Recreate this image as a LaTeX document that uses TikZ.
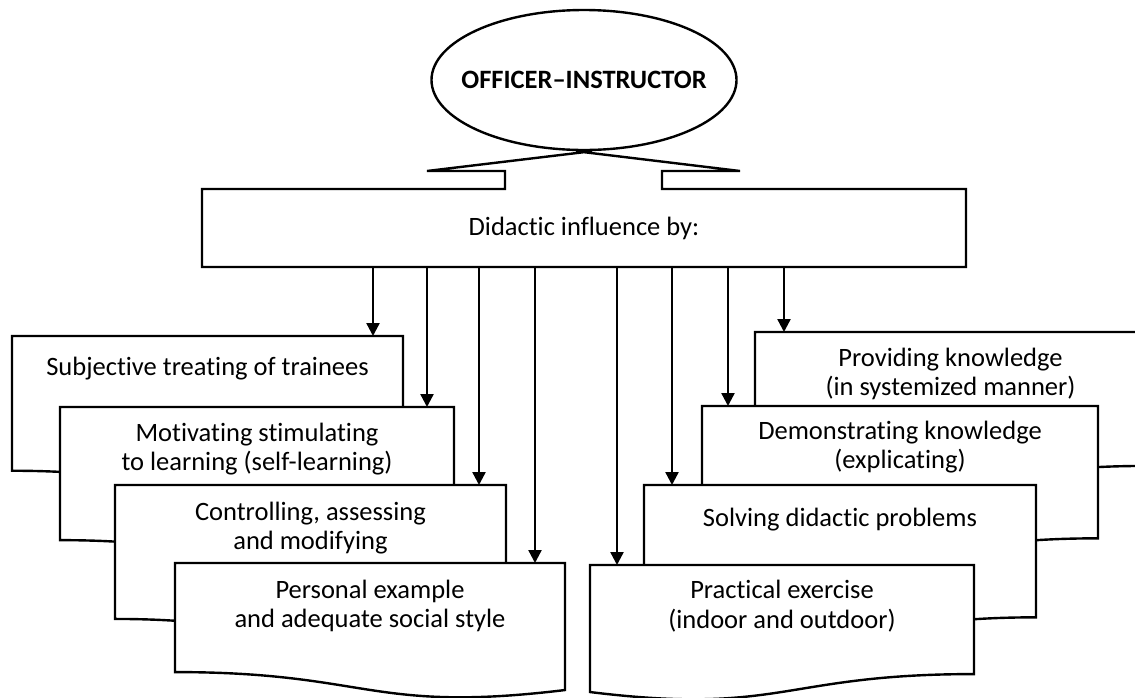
\documentclass[tikz,border=0pt]{standalone}
\usepackage{fontspec}
\setmainfont{Carlito}[Ligatures=NoCommon]
\usetikzlibrary{arrows.meta,positioning,shapes.geometric,calc}
\tikzset{
  outline/.style={draw=black,line width=2.4pt,fill=white,line join=miter},
  frame/.style={draw=black,line width=2.4pt,line join=miter},
  docbox/.style={rectangle,draw=none,inner sep=0pt,outer sep=0pt,anchor=north west},
  doctext/.style={align=center,inner sep=0pt,font=\fontsize{26.5}{29.5}\selectfont},
  headnode/.style={ellipse,draw=black,line width=2.4pt,inner sep=0pt,
    minimum width=305pt,minimum height=140pt,font=\bfseries\fontsize{26.5}{30}\selectfont},
  drop/.style={-{Triangle[length=13pt,width=13pt]},line width=2.4pt}
}
% document shape, wave dropping to the right (left column)
\newcommand\docleft[1]{%
  \draw[outline] (#1.north west) -- (#1.north east)
    -- ($(#1.north east)!0.934!(#1.south east)$)
    .. controls ($(#1.north)!1.108!(#1.south)$) and ($(#1.north)!0.802!(#1.south)$)
    .. ($(#1.north west)!0.802!(#1.south west)$) -- cycle;}
% document shape, wave dropping to the left (right column)
\newcommand\docright[1]{%
  \draw[outline] (#1.north west) -- (#1.north east)
    -- ($(#1.north east)!0.802!(#1.south east)$)
    .. controls ($(#1.north)!0.802!(#1.south)$) and ($(#1.north)!1.108!(#1.south)$)
    .. ($(#1.north west)!0.934!(#1.south west)$) -- cycle;}

\begin{document}
\begin{tikzpicture}[x=1pt,y=-1pt]
  \useasboundingbox (0,0) rectangle (1135,697);
  \clip (0,0) rectangle (1135,697);

  \node[headnode] (off) at (584,80) {\makebox[0pt]{OFFICER–INSTRUCTOR}};
  \node[docbox,doctext,minimum width=764pt,minimum height=78pt] (infl) at (202,189) {Didactic influence by:};
  \draw[frame] ([xshift=8pt]off.south) -- (427,171) -- (505,171) -- (505,189) -- (infl.north west)
    -- (infl.south west) -- (infl.south east) -- (infl.north east) -- (662,189) -- (662,171)
    -- (740,171) -- ([xshift=-8pt]off.south);

  % left column, back to front
  \node[docbox,minimum width=391pt,minimum height=168pt] (subj) at (12,336) {};
  \node[docbox,minimum width=394pt,minimum height=166pt] (motiv) at (60,407) {};
  \node[docbox,minimum width=391pt,minimum height=167pt] (ctrl) at (115,485) {};
  \node[docbox,minimum width=390pt,minimum height=136pt] (pers) at (175,563) {};
  \docleft{subj}
  \node[doctext] (subjt) at ($(subj.north)+(0,33)$) {Subjective treating of trainees};
  \docleft{motiv}
  \node[doctext] (motivt) at ($(motiv.north)+(0,42)$) {Motivating stimulating\\to learning (self-learning)};
  \docleft{ctrl}
  \node[doctext] (ctrlt) at ($(ctrl.north)+(0,43)$) {Controlling, assessing\\and modifying};
  \docleft{pers}
  \node[doctext] (perst) at ($(pers.north)+(0,43)$) {Personal example\\and adequate social style};

  % right column, back to front
  \node[docbox,minimum width=391pt,minimum height=167pt] (prov) at (755,332) {};
  \node[docbox,minimum width=396pt,minimum height=165pt] (demo) at (702,406) {};
  \node[docbox,minimum width=392pt,minimum height=165pt] (solv) at (644,485) {};
  \node[docbox,minimum width=384pt,minimum height=136pt] (prac) at (590,565) {};
  \docright{prov}
  \node[doctext] (provt) at ($(prov.north)+(0,42)$) {Providing knowledge\\(in systemized manner)};
  \docright{demo}
  \node[doctext] (demot) at ($(demo.north)+(0,41)$) {Demonstrating knowledge\\(explicating)};
  \docright{solv}
  \node[doctext] (solvt) at ($(solv.north)+(0,35)$) {Solving didactic problems};
  \docright{prac}
  \node[doctext] (pract) at ($(prac.north)+(0,41)$) {Practical exercise\\(indoor and outdoor)};

  \foreach \x/\t in {373/subj,427/motiv,479/ctrl,535/pers,617/prac,672/solv,728/demo,784/prov}
    \draw[drop] (\x,0 |- infl.south) -- (\x,0 |- \t.north);
\end{tikzpicture}
\end{document}
